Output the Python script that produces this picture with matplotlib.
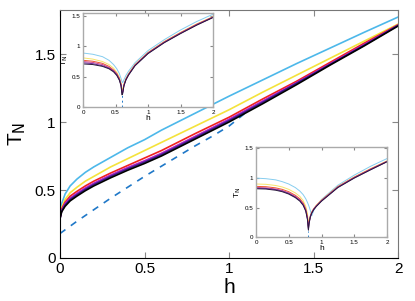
import matplotlib
matplotlib.use("Agg")
import matplotlib.pyplot as plt

plt.rcParams["font.family"] = ["Liberation Sans", "DejaVu Sans"]

# main panel: T_N(h) for several parameter values
h_main = [0, 0.01, 0.03, 0.06, 0.1, 0.15, 0.2, 0.3, 0.4, 0.5, 0.6, 0.8, 1.0, 1.2, 1.4, 1.6, 1.8, 2.0]
t_blue = [0.30, 0.40, 0.47, 0.53, 0.58, 0.63, 0.67, 0.74, 0.81, 0.87, 0.94, 1.065, 1.19, 1.31, 1.43, 1.545, 1.66, 1.772]
t_yellow = [0.30, 0.37, 0.43, 0.48, 0.52, 0.565, 0.60, 0.67, 0.73, 0.79, 0.85, 0.97, 1.09, 1.22, 1.345, 1.47, 1.595, 1.72]
t_red = [0.295, 0.36, 0.41, 0.455, 0.49, 0.53, 0.565, 0.625, 0.68, 0.735, 0.79, 0.915, 1.035, 1.17, 1.30, 1.44, 1.58, 1.715]
t_purple = [0.29, 0.35, 0.40, 0.44, 0.475, 0.515, 0.55, 0.61, 0.665, 0.715, 0.77, 0.895, 1.02, 1.155, 1.29, 1.43, 1.57, 1.712]
t_navy = [0.29, 0.345, 0.39, 0.43, 0.465, 0.505, 0.54, 0.60, 0.655, 0.705, 0.76, 0.885, 1.01, 1.145, 1.285, 1.425, 1.565, 1.71]
t_black = [0.29, 0.34, 0.38, 0.42, 0.455, 0.495, 0.53, 0.59, 0.645, 0.695, 0.75, 0.875, 1.0, 1.135, 1.275, 1.42, 1.56, 1.706]

h_dash = [0, 0.1, 0.2, 0.3, 0.4, 0.5, 0.6, 0.7, 0.8, 0.9, 1.0, 1.1]
t_dash = [0.18, 0.27, 0.355, 0.44, 0.52, 0.60, 0.675, 0.75, 0.825, 0.895, 0.97, 1.07]

# inset 1 (upper left)
h_in1 = [0, 0.15, 0.3, 0.4, 0.47, 0.52, 0.56, 0.585, 0.6, 0.61, 0.63, 0.66, 0.7, 0.8, 1.0, 1.25, 1.5, 1.75, 2.0]
in1_blue = [0.89, 0.87, 0.83, 0.77, 0.70, 0.63, 0.55, 0.47, 0.42, 0.40, 0.45, 0.52, 0.59, 0.73, 0.93, 1.11, 1.27, 1.41, 1.53]
in1_yellow = [0.81, 0.79, 0.75, 0.70, 0.64, 0.57, 0.49, 0.40, 0.30, 0.28, 0.38, 0.47, 0.55, 0.70, 0.90, 1.08, 1.23, 1.37, 1.49]
in1_red = [0.77, 0.755, 0.72, 0.67, 0.61, 0.55, 0.47, 0.38, 0.26, 0.25, 0.37, 0.46, 0.54, 0.695, 0.895, 1.075, 1.225, 1.365, 1.485]
in1_purple = [0.75, 0.735, 0.70, 0.65, 0.60, 0.54, 0.46, 0.37, 0.24, 0.24, 0.36, 0.455, 0.535, 0.69, 0.89, 1.07, 1.22, 1.36, 1.48]
in1_navy = [0.73, 0.715, 0.68, 0.64, 0.59, 0.53, 0.45, 0.36, 0.22, 0.23, 0.355, 0.45, 0.53, 0.685, 0.885, 1.065, 1.215, 1.355, 1.48]
in1_black = [0.71, 0.70, 0.67, 0.63, 0.58, 0.52, 0.44, 0.35, 0.20, 0.22, 0.35, 0.445, 0.525, 0.68, 0.88, 1.06, 1.21, 1.35, 1.475]
in1_dash_h = [0.6, 0.6]
in1_dash_t = [0.0, 0.3]

# inset 2 (lower right)
h_in2 = [0, 0.15, 0.3, 0.4, 0.5, 0.6, 0.67, 0.72, 0.76, 0.785, 0.8, 0.81, 0.83, 0.85, 0.88, 0.92, 1.0, 1.25, 1.5, 1.75, 2.0]
in2_blue = [1.0, 0.99, 0.97, 0.94, 0.90, 0.84, 0.78, 0.72, 0.65, 0.59, 0.55, 0.52, 0.45, 0.36, 0.45, 0.53, 0.64, 0.88, 1.05, 1.20, 1.33]
in2_yellow = [0.90, 0.895, 0.875, 0.85, 0.81, 0.75, 0.69, 0.62, 0.52, 0.40, 0.25, 0.28, 0.37, 0.43, 0.48, 0.54, 0.63, 0.86, 1.02, 1.16, 1.29]
in2_red = [0.86, 0.855, 0.835, 0.81, 0.77, 0.71, 0.65, 0.58, 0.48, 0.35, 0.18, 0.26, 0.36, 0.42, 0.48, 0.535, 0.625, 0.855, 1.015, 1.155, 1.285]
in2_purple = [0.84, 0.835, 0.815, 0.79, 0.75, 0.69, 0.63, 0.56, 0.46, 0.33, 0.15, 0.25, 0.355, 0.415, 0.475, 0.53, 0.62, 0.85, 1.01, 1.15, 1.28]
in2_navy = [0.83, 0.825, 0.805, 0.78, 0.74, 0.68, 0.62, 0.55, 0.45, 0.31, 0.13, 0.24, 0.35, 0.41, 0.47, 0.525, 0.615, 0.845, 1.005, 1.145, 1.28]
in2_black = [0.82, 0.815, 0.795, 0.77, 0.73, 0.67, 0.61, 0.54, 0.44, 0.30, 0.12, 0.23, 0.345, 0.405, 0.465, 0.52, 0.61, 0.84, 1.0, 1.14, 1.275]
in2_dash_h = [0.8, 0.8]
in2_dash_t = [0.0, 0.1]

colors = ["#4db8ea", "#f4e33c", "#f02020", "#b020c8", "#3a1a8a", "#000000"]
in_colors = ["#86cdef", "#f7e46a", "#ec5a30", "#d0408a", "#6a2aa0", "#2a1a3a"]
dash_color = "#1f78c8"


def style_axes(ax, size, tick_len, pad):
    ax.tick_params(direction="in", top=True, right=True, length=tick_len,
                   color="#888888", labelsize=size, pad=pad)
    ax.set_xticks([0, 0.5, 1, 1.5, 2])
    ax.set_xticklabels(["0", "0.5", "1", "1.5", "2"])
    ax.set_yticks([0, 0.5, 1, 1.5])
    ax.set_yticklabels(["0", "0.5", "1", "1.5"])


fig = plt.figure(figsize=(4.15, 3.01), dpi=100)
ax = fig.add_axes([0.1446, 0.1429, 0.8145, 0.8239])
main_series = [t_blue, t_yellow, t_red, t_purple, t_navy, t_black]
ax.plot(h_dash, t_dash, ls=(0, (4, 4)), color=dash_color, lw=1.2)
for ys, c in zip(main_series, colors):
    ax.plot(h_main, ys, color=c, lw=1.2)
ax.set_xlim(0, 2)
ax.set_ylim(0, 1.824)
style_axes(ax, 11, 4, 3)
for side in ["top", "right"]:
    ax.spines[side].set_color("#777777")
ax.set_xlabel("h", fontsize=15, labelpad=1)
ax.set_ylabel(r"T$_\mathrm{N}$", fontsize=15, labelpad=5)


def inset(rect, hs, series, dh, dt, top):
    a = fig.add_axes(rect)
    a.plot(dh, dt, ls=(0, (2, 3)), color=dash_color, lw=0.7)
    for ys, c in zip(series, in_colors):
        a.plot(hs, ys, color=c, lw=0.7)
    a.set_xlim(0, 2)
    a.set_ylim(0, top)
    style_axes(a, 4.5, 2, 2)
    for s in a.spines.values():
        s.set_color("#aaaaaa")
        s.set_linewidth(1.0)
    a.set_xlabel("h", fontsize=6, labelpad=0)
    a.set_ylabel(r"T$_\mathrm{N}$", fontsize=6, labelpad=1)
    return a


inset([0.2, 0.6445, 0.3133, 0.3123], h_in1,
      [in1_blue, in1_yellow, in1_red, in1_purple, in1_navy, in1_black],
      in1_dash_h, in1_dash_t, 1.55)
inset([0.6169, 0.2116, 0.3157, 0.301], h_in2,
      [in2_blue, in2_yellow, in2_red, in2_purple, in2_navy, in2_black],
      in2_dash_h, in2_dash_t, 1.53)

fig.savefig("out.png", dpi=100)
